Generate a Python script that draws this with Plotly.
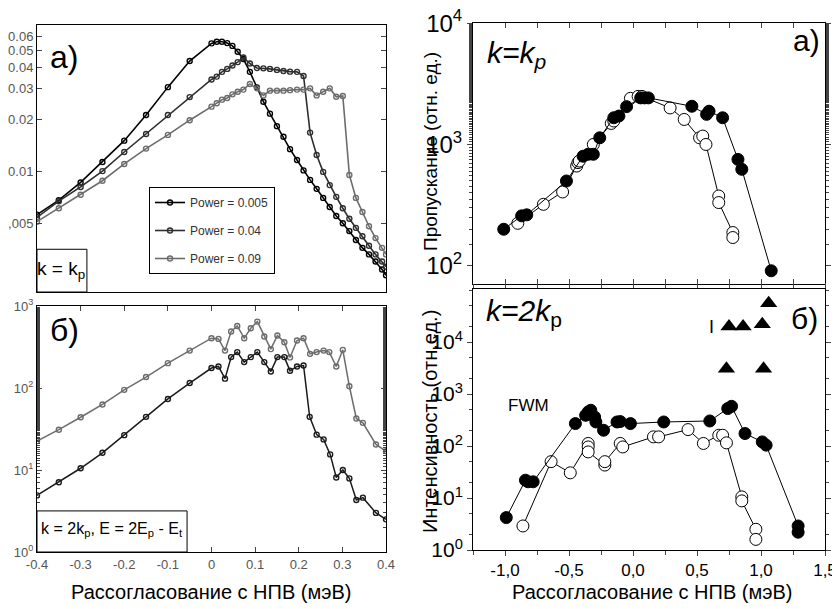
import plotly.graph_objects as go

# page body adds an 8px margin, so the figure is 8px smaller and all pixel
# positions below (given in reference-image pixels) are shifted by that offset
OFF = 8
W, H = 840 - OFF, 609 - OFF

# ---------------- data: top-left (k = k_p), three pump powers ----------------
tl_x = [-0.40, -0.35, -0.30, -0.25, -0.20, -0.15, -0.10, -0.05, 0.000, 0.012, 0.024, 0.036,
        0.048, 0.060, 0.073, 0.088, 0.104, 0.119, 0.134, 0.150, 0.165, 0.180, 0.196, 0.211,
        0.226, 0.241, 0.256, 0.271, 0.286, 0.301, 0.316, 0.331, 0.346, 0.361, 0.376, 0.391, 0.400]
tl_p005 = [0.0056, 0.0068, 0.0086, 0.0113, 0.0150, 0.0211, 0.0306, 0.0433, 0.0548, 0.0560, 0.0560,
           0.0550, 0.0530, 0.0490, 0.0445, 0.0375, 0.0305, 0.0252, 0.0215, 0.0182, 0.0158, 0.0134,
           0.0116, 0.0101, 0.0089, 0.0079, 0.0070, 0.0062, 0.0055, 0.0050, 0.0045, 0.0040, 0.0036,
           0.0033, 0.0030, 0.0027, 0.0025]
tl_p04 = [0.0054, 0.0067, 0.0081, 0.0100, 0.0129, 0.0164, 0.0211, 0.0268, 0.0339, 0.0352, 0.0375,
          0.0390, 0.0408, 0.0427, 0.0454, 0.0419, 0.0395, 0.0393, 0.0390, 0.0385, 0.0379, 0.0376,
          0.0375, 0.0355, 0.0167, 0.0124, 0.0099, 0.0083, 0.0071, 0.0061, 0.0053, 0.0047, 0.0042,
          0.0037, 0.0033, 0.0030, 0.0028]
tl_p09 = [0.0051, 0.0061, 0.0073, 0.0088, 0.0110, 0.0135, 0.0162, 0.0197, 0.0236, 0.0247, 0.0259,
          0.0265, 0.0278, 0.0288, 0.0296, 0.0319, 0.0301, 0.0274, 0.0292, 0.0292, 0.0292, 0.0294,
          0.0296, 0.0296, 0.0301, 0.0274, 0.0288, 0.0301, 0.0269, 0.0272, 0.0095, 0.0070, 0.0058,
          0.0048, 0.0041, 0.0036, 0.0033]
tl_names = ["Power = 0.005", "Power = 0.04", "Power = 0.09"]
tl_yticks = [0.005, 0.01, 0.02, 0.03, 0.04, 0.05, 0.06]
tl_yticktext = ["0,005", "0.01", "0.02", "0.03", "0.04", "0.05", "0.06"]

# ---------------- data: bottom-left (k = 2k_p) ----------------
bl_x_upper = [-0.40, -0.35, -0.30, -0.25, -0.20, -0.15, -0.10, -0.05, 0.000, 0.016, 0.031, 0.045,
              0.059, 0.075, 0.090, 0.105, 0.121, 0.136, 0.151, 0.167, 0.180, 0.196, 0.211, 0.226,
              0.241, 0.257, 0.270, 0.286, 0.301, 0.316, 0.332, 0.347, 0.377, 0.400]
bl_upper = [22.5, 31, 44, 63, 95, 136, 201, 286, 405, 397, 286, 488, 571, 405, 535, 645, 425, 298,
            437, 362, 236, 379, 405, 261, 274, 286, 274, 183, 292, 105, 42.5, 37.6, 20.5, 17]
bl_x_lower = [-0.40, -0.35, -0.30, -0.25, -0.20, -0.15, -0.10, -0.05, 0.000, 0.016, 0.031, 0.045,
              0.059, 0.075, 0.090, 0.105, 0.121, 0.136, 0.151, 0.167, 0.180, 0.196, 0.211, 0.225,
              0.241, 0.257, 0.272, 0.286, 0.301, 0.316, 0.332, 0.347, 0.377, 0.400]
bl_lower = [4.9, 7.1, 10.5, 16.2, 26.6, 44.5, 73.5, 115, 175, 183, 130, 238, 274, 207, 238, 274, 207,
            159, 238, 238, 162, 183, 188, 44.5, 27, 23.6, 15.5, 8.1, 10, 7.9, 4.3, 4.6, 3.0, 2.5]
bl_xticks = [-0.4, -0.3, -0.2, -0.1, 0, 0.1, 0.2, 0.3, 0.4]
bl_xticktext = ["-0.4", "-0.3", "-0.2", "-0.1", "0", "0.1", "0.2", "0.3", "0.4"]

# ---------------- data: top-right transmission ----------------
tr_filled_x = [-1.01, -0.87, -0.83, -0.52, -0.39, -0.35, -0.31, -0.26, -0.15, -0.11, -0.05, 0.06,
               0.09, 0.12, 0.46, 0.575, 0.594, 0.70, 0.82, 0.85, 1.08]
tr_filled_y = [200, 258, 263, 500, 800, 830, 830, 1135, 1660, 1715, 2050, 2420, 2420, 2420, 2065,
               1770, 1880, 1660, 753, 624, 91]
tr_open_x = [-0.90, -0.70, -0.55, -0.44, -0.43, -0.42, -0.31, -0.17, -0.15, -0.02, 0.04, 0.07,
             0.29, 0.40, 0.52, 0.545, 0.57, 0.67, 0.67, 0.78, 0.78]
tr_open_y = [224, 321, 406, 664, 709, 730, 1000, 1490, 1560, 2400, 2490, 2490, 2000, 1607, 1135,
             1172, 1000, 376, 332, 188, 171]

# ---------------- data: bottom-right intensity ----------------
br_filled_x = [-0.99, -0.84, -0.82, -0.78, -0.45, -0.37, -0.35, -0.33, -0.30, -0.29, -0.23, -0.125,
               -0.10, -0.02, 0.24, 0.60, 0.74, 0.77, 0.875, 1.01, 1.04, 1.29, 1.29]
br_filled_y = [4.2, 22, 20.5, 20.5, 270, 390, 452, 487, 362, 290, 201, 290, 295, 270, 290, 303,
               525, 580, 174, 120, 104, 2.9, 2.2]
br_open_x = [-0.86, -0.64, -0.49, -0.35, -0.35, -0.35, -0.22, -0.22, -0.10, -0.08, 0.16, 0.20,
             0.43, 0.55, 0.67, 0.70, 0.73, 0.85, 0.85, 0.96, 0.96]
br_open_y = [2.9, 50, 30.5, 112, 96, 77, 43, 50, 112, 96, 150, 150, 207, 112, 161, 161, 115,
             10.5, 8.8, 2.5, 1.6]
br_tri_x = [0.75, 0.86, 1.01, 1.06, 0.73, 1.02]
br_tri_y = [20000, 20000, 22000, 56000, 3070, 3070]

r_xticks = [-1.0, -0.5, 0.0, 0.5, 1.0, 1.5]
r_xticktext = ["-1,0", "-0,5", "0,0", "0,5", "1,0", "1,5"]

# ---------------- figure ----------------
SANS = "Liberation Sans, Arial, sans-serif"


def px(x):
    return (x - OFF) / W


def py(y):
    return 1 - (y - OFF) / H


def dom_x(a, b):
    return [px(a), px(b)]


def dom_y(top, bottom):
    return [py(bottom), py(top)]


fig = go.Figure()

tl_colors = ["#000000", "#2e2e2e", "#6c6c6c"]
for ys, name, col in zip([tl_p005, tl_p04, tl_p09], tl_names, tl_colors):
    fig.add_trace(go.Scatter(
        x=tl_x, y=ys, name=name, mode="lines+markers", xaxis="x", yaxis="y",
        legendgroup=name,
        line=dict(color=col, width=1.6),
        marker=dict(symbol="circle-open", size=5, color=col, line=dict(width=1.4)),
    ))

fig.add_trace(go.Scatter(x=bl_x_upper, y=bl_upper, mode="lines+markers", xaxis="x2", yaxis="y2",
                         showlegend=False, line=dict(color="#6c6c6c", width=1.5),
                         marker=dict(symbol="circle-open", size=5, color="#6c6c6c", line=dict(width=1.4))))
fig.add_trace(go.Scatter(x=bl_x_lower, y=bl_lower, mode="lines+markers", xaxis="x2", yaxis="y2",
                         showlegend=False, line=dict(color="#1a1a1a", width=1.5),
                         marker=dict(symbol="circle-open", size=5, color="#1a1a1a", line=dict(width=1.4))))

fig.add_trace(go.Scatter(x=tr_open_x, y=tr_open_y, mode="lines+markers", xaxis="x3", yaxis="y3",
                         showlegend=False, line=dict(color="black", width=1),
                         marker=dict(symbol="circle", size=12, color="white", line=dict(color="black", width=1))))
fig.add_trace(go.Scatter(x=tr_filled_x, y=tr_filled_y, mode="lines+markers", xaxis="x3", yaxis="y3",
                         showlegend=False, line=dict(color="black", width=1),
                         marker=dict(symbol="circle", size=12, color="black", line=dict(color="black", width=1))))

fig.add_trace(go.Scatter(x=br_open_x, y=br_open_y, mode="lines+markers", xaxis="x4", yaxis="y4",
                         showlegend=False, line=dict(color="black", width=1),
                         marker=dict(symbol="circle", size=12, color="white", line=dict(color="black", width=1))))
fig.add_trace(go.Scatter(x=br_filled_x, y=br_filled_y, mode="lines+markers", xaxis="x4", yaxis="y4",
                         showlegend=False, line=dict(color="black", width=1),
                         marker=dict(symbol="circle", size=12, color="black", line=dict(color="black", width=1))))
fig.add_trace(go.Scatter(x=br_tri_x, y=br_tri_y, mode="markers", xaxis="x4", yaxis="y4",
                         showlegend=False,
                         marker=dict(symbol="triangle-up", size=15, color="black")))

left_tick_font = dict(family=SANS, size=13, color="#555555")
ax = dict(showline=True, linecolor="black", linewidth=1, mirror="ticks", showgrid=False,
          zeroline=False, automargin=False, ticklabeloverflow="allow")

fig.update_layout(
    width=W, height=H, margin=dict(l=0, r=0, t=0, b=0, autoexpand=False),
    paper_bgcolor="white", plot_bgcolor="white",
    showlegend=True,
    legend=dict(x=px(149), y=py(187), xanchor="left", yanchor="top",
                bordercolor="black", borderwidth=1, bgcolor="white",
                font=dict(family=SANS, size=12, color="#333333"),
                tracegroupgap=9, itemwidth=30),
    xaxis=dict(domain=dom_x(37, 386), anchor="y", range=[-0.4, 0.4], showticklabels=False,
               ticks="", **ax),
    yaxis=dict(domain=dom_y(25, 292), anchor="x", type="log", range=[-2.699, -1.155],
               tickvals=tl_yticks, ticktext=tl_yticktext, ticks="inside", ticklen=5,
               tickfont=left_tick_font, **ax),
    xaxis2=dict(domain=dom_x(37, 386), anchor="y2", range=[-0.4, 0.4], tickvals=bl_xticks,
                ticktext=bl_xticktext, ticks="inside", ticklen=5, tickfont=left_tick_font, **ax),
    yaxis2=dict(domain=dom_y(306, 552), anchor="x2", type="log", range=[0, 3],
                tickvals=[1, 10, 100, 1000],
                ticktext=["10<sup>0</sup>", "10<sup>1</sup>", "10<sup>2</sup>", "10<sup>3</sup>"],
                ticks="inside", ticklen=5, tickfont=left_tick_font,
                minor=dict(ticks="inside", ticklen=3, showgrid=False), **ax),
    xaxis3=dict(domain=dom_x(473, 825), anchor="y3", range=[-1.25, 1.5], showticklabels=False,
                tickvals=r_xticks, ticks="inside", ticklen=5,
                minor=dict(ticks="inside", ticklen=5, dtick=0.25, showgrid=False), **ax),
    yaxis3=dict(domain=dom_y(23, 284), anchor="x3", type="log", range=[1.85, 4.001],
                tickvals=[100, 1000, 10000],
                ticktext=["10<sup>2</sup>", "10<sup>3</sup>", "10<sup>4</sup>"],
                ticks="outside", ticklen=5, tickfont=dict(family=SANS, size=24, color="black"),
                minor=dict(ticks="outside", ticklen=3, showgrid=False), **ax),
    xaxis4=dict(domain=dom_x(473, 825), anchor="y4", range=[-1.25, 1.5], tickvals=r_xticks,
                ticktext=r_xticktext, ticks="outside", ticklen=5,
                minor=dict(ticks="outside", ticklen=4, dtick=0.25, showgrid=False),
                tickfont=dict(family=SANS, size=17, color="black"), **ax),
    yaxis4=dict(domain=dom_y(289, 550), anchor="x4", type="log", range=[0, 5.02],
                tickvals=[1, 10, 100, 1000, 10000],
                ticktext=["10<sup>0</sup>", "10<sup>1</sup>", "10<sup>2</sup>", "10<sup>3</sup>",
                          "10<sup>4</sup>"],
                ticks="outside", ticklen=5, tickfont=dict(family=SANS, size=21, color="black"),
                minor=dict(ticks="outside", ticklen=3, showgrid=False), **ax),
)

# boxes for the inset labels on the left panels
fig.add_shape(type="rect", xref="x domain", yref="y domain", x0=0, x1=0.143, y0=0, y1=0.16,
              line=dict(color="black", width=1), fillcolor="white")
fig.add_shape(type="rect", xref="x2 domain", yref="y2 domain", x0=0, x1=0.43, y0=0, y1=0.167,
              line=dict(color="black", width=1), fillcolor="white")

ann = []


def add_text(text, x, y, size, family=SANS, color="black", angle=0, xanchor="center",
             yanchor="middle"):
    ann.append(dict(text=text, x=px(x), y=py(y), xref="paper", yref="paper",
                    showarrow=False, font=dict(family=family, size=size, color=color),
                    textangle=angle, xanchor=xanchor, yanchor=yanchor))


add_text("a)", 64, 57, 32)
add_text("б)", 64, 330, 32)
add_text("k = k<sub>p</sub>", 61, 270, 19)
add_text("k = 2k<sub>p</sub>, E = 2E<sub>p</sub> - E<sub>t</sub>", 112, 529, 16)
add_text("Рассогласование с НПВ (мэВ)", 211, 592, 20)
add_text("Рассогласование с НПВ (мэВ)", 652, 592, 20)
add_text("<i>k=k<sub>p</sub></i>", 516, 54, 30)
add_text("a)", 806, 41, 30)
add_text("<i>k=2k</i><sub>p</sub>", 524, 312, 30)
add_text("б)", 804, 318, 30)
add_text("FWM", 528, 405, 17)
add_text("I", 711, 327, 18)
add_text("Пропускание (отн. ед.)", 430, 152, 19, angle=-90)
add_text("Интенсивность (отн.ед.)", 430, 422, 20, angle=-90)

fig.update_layout(annotations=ann)

fig.write_html("out.html")
